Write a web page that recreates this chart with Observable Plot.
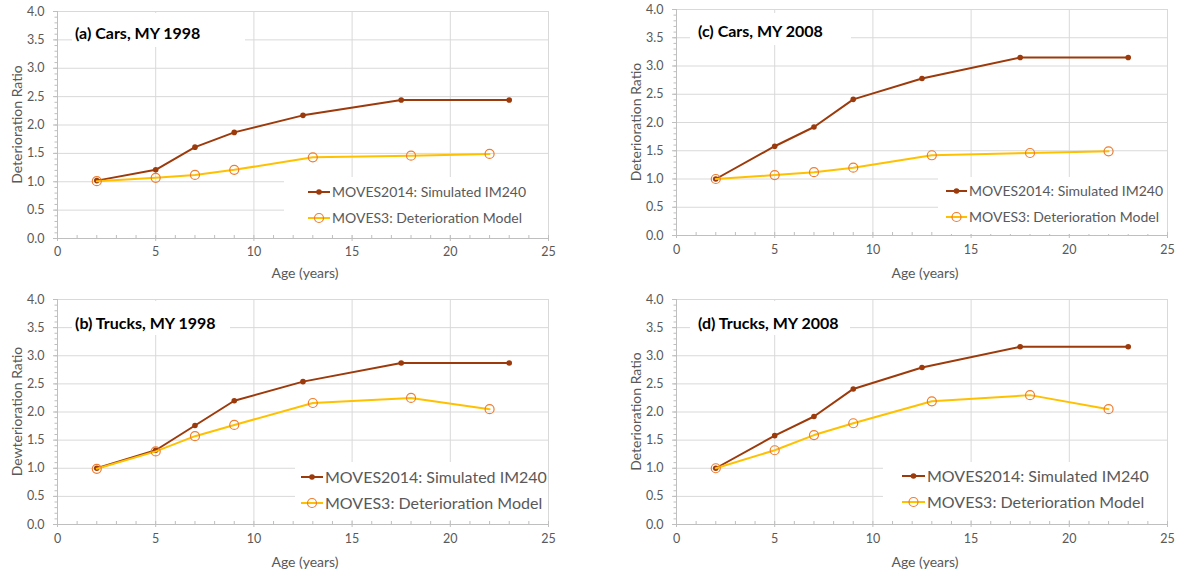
<!DOCTYPE html>
<html>
<head>
<meta charset="utf-8">
<script src="https://cdn.jsdelivr.net/npm/d3@7"></script>
<script src="https://cdn.jsdelivr.net/npm/@observablehq/plot@0.6"></script>
<style>
  body { margin: 0; background: #fff; }
  #chart { position: relative; width: 1179px; height: 575px; overflow: hidden; font-family: Lato, "Open Sans", sans-serif; }
  .panel { position: absolute; }
  .panel svg { display: block; }
  .overlay { position: absolute; left: 0; top: 0; pointer-events: none; }
</style>
</head>
<body>
<div id="chart"></div>
<script>
// ---------------- data ----------------
const ages2014 = [2, 5, 7, 9, 12.5, 17.5, 23];
const agesMoves3 = [2, 5, 7, 9, 13, 18, 22];

const carsMY1998_2014   = [1.02, 1.21, 1.61, 1.87, 2.17, 2.44, 2.44];
const carsMY1998_M3     = [1.01, 1.07, 1.12, 1.21, 1.43, 1.46, 1.49];
const carsMY2008_2014   = [1.00, 1.58, 1.92, 2.41, 2.78, 3.15, 3.15];
const carsMY2008_M3     = [1.00, 1.07, 1.12, 1.20, 1.42, 1.46, 1.49];
const trucksMY1998_2014 = [1.00, 1.32, 1.76, 2.20, 2.54, 2.87, 2.87];
const trucksMY1998_M3   = [0.99, 1.30, 1.57, 1.77, 2.16, 2.25, 2.05];
const trucksMY2008_2014 = [1.00, 1.58, 1.92, 2.41, 2.79, 3.16, 3.16];
const trucksMY2008_M3   = [1.00, 1.32, 1.59, 1.80, 2.19, 2.30, 2.05];

const panelTitles = ["(a) Cars, MY 1998", "(c) Cars, MY 2008", "(b) Trucks, MY 1998", "(d) Trucks, MY 2008"];
const yLabels = ["Deterioration Ratio", "Deterioration Ratio", "Dewterioration Ratio", "Deterioration Ratio"];
const xLabel = "Age (years)";
const seriesNames = ["MOVES2014: Simulated IM240", "MOVES3: Deterioration Model"];
const xTicks = [0, 5, 10, 15, 20, 25];
const yTicks = [0, 0.5, 1, 1.5, 2, 2.5, 3, 3.5, 4];

// ---------------- styles ----------------
const C2014 = "#9C3A0B";
const CM3LINE = "#FFC000";
const CM3DOT = "#ED7D31";
const GRID = "#d9d9d9";
const AXIS = "#bfbfbf";
const TXT = "#595959";

const xMinor = d3.range(0, 25.5, 1);
const yMinor = d3.range(0, 40.5, 1).map(d => d / 10);

const layouts = [
  { left: 0, top: 0, w: 590, h: 285, ml: 57, mr: 42, mt: 11, mb: 47, pad: 9,
    s2014: carsMY1998_2014, sM3: carsMY1998_M3,
    tbox: [72, 13, 173, 34], tx: 75, ty: 33, tfs: 16,
    lbox: [284, 177, 264, 58], rows: [192, 218], samp: [308, 330], ltx: 332, lfs: 14,
    ylx: 17, xlx: 305, xly: 273 },
  { left: 590, top: 0, w: 589, h: 285, ml: 86, mr: 12, mt: 9, mb: 50, pad: 10,
    s2014: carsMY2008_2014, sM3: carsMY2008_M3,
    tbox: [100, 13, 161, 32], tx: 108, ty: 31, tfs: 16,
    lbox: [348, 177, 229, 57], rows: [191, 217], samp: [356, 377], ltx: 379, lfs: 14,
    ylx: 46, xlx: 335, xly: 273 },
  { left: 0, top: 285, w: 590, h: 290, ml: 57, mr: 42, mt: 14, mb: 51, pad: 10,
    s2014: trucksMY1998_2014, sM3: trucksMY1998_M3,
    tbox: [72, 16, 158, 34], tx: 75, ty: 38, tfs: 16,
    lbox: [295, 177, 253, 58], rows: [192, 218], samp: [301, 323], ltx: 325, lfs: 16,
    ylx: 17, xlx: 305, xly: 277 },
  { left: 590, top: 285, w: 589, h: 290, ml: 86, mr: 12, mt: 14, mb: 51, pad: 10,
    s2014: trucksMY2008_2014, sM3: trucksMY2008_M3,
    tbox: [100, 16, 160, 34], tx: 108, ty: 38, tfs: 16,
    lbox: [293, 177, 284, 58], rows: [191, 217], samp: [312, 335], ltx: 337, lfs: 16,
    ylx: 46, xlx: 335, xly: 277 }
];

const chart = document.getElementById("chart");

layouts.forEach((L, i) => {
  const d2014 = ages2014.map((x, k) => ({ x, y: L.s2014[k] }));
  const dM3 = agesMoves3.map((x, k) => ({ x, y: L.sM3[k] }));

  const plot = Plot.plot({
    width: L.w, height: L.h,
    marginLeft: L.ml, marginRight: L.mr, marginTop: L.mt, marginBottom: L.mb,
    style: { fontFamily: "Lato, 'Open Sans', sans-serif", fontSize: "12.5px", background: "transparent", color: TXT },
    x: { domain: [0, 25] },
    y: { domain: [0, 4] },
    marks: [
      Plot.gridX(xTicks.filter(t => t > 0), { stroke: GRID, strokeOpacity: 1 }),
      Plot.gridY(yTicks.filter(t => t > 0), { stroke: GRID, strokeOpacity: 1 }),
      Plot.ruleX([0], { stroke: AXIS }),
      Plot.ruleY([0], { stroke: AXIS }),
      Plot.axisY(yMinor, { tickSize: 2.5, fill: "none", stroke: AXIS, label: null }),
      Plot.axisY(yTicks, { tickSize: 4, fill: "none", stroke: AXIS, label: null }),
      Plot.axisY(yTicks, { tickSize: 0, tickPadding: 13, tickFormat: d3.format(".1f"), fill: TXT, label: null }),
      Plot.axisX(xMinor, { tickSize: -3, fill: "none", stroke: AXIS, label: null }),
      Plot.axisX(xTicks, { tickSize: 3, fill: "none", stroke: AXIS, label: null }),
      Plot.axisX(xTicks, { tickSize: 0, tickPadding: L.pad, fill: TXT, label: null }),
      Plot.line(d2014, { x: "x", y: "y", stroke: C2014, strokeWidth: 2 }),
      Plot.dot(d2014, { x: "x", y: "y", r: 2.8, fill: C2014 }),
      Plot.line(dM3, { x: "x", y: "y", stroke: CM3LINE, strokeWidth: 2 }),
      Plot.dot(dM3, { x: "x", y: "y", r: 4.5, stroke: CM3DOT, fill: "none", strokeWidth: 1.2 })
    ]
  });

  const div = document.createElement("div");
  div.className = "panel";
  div.style.left = L.left + "px";
  div.style.top = L.top + "px";
  div.style.width = L.w + "px";
  div.style.height = L.h + "px";
  div.appendChild(plot);

  // overlay: title, legend, axis labels
  const svg = d3.create("svg")
    .attr("class", "overlay")
    .attr("width", L.w).attr("height", L.h)
    .style("font-family", "Lato, 'Open Sans', sans-serif");

  // title
  svg.append("rect").attr("x", L.tbox[0]).attr("y", L.tbox[1])
    .attr("width", L.tbox[2]).attr("height", L.tbox[3]).attr("fill", "#fff");
  svg.append("text").attr("x", L.tx).attr("y", L.ty).attr("dy", "0.35em")
    .attr("font-size", L.tfs).attr("font-weight", "bold").attr("fill", "#000")
    .text(panelTitles[i]);

  // legend
  svg.append("rect").attr("x", L.lbox[0]).attr("y", L.lbox[1])
    .attr("width", L.lbox[2]).attr("height", L.lbox[3]).attr("fill", "#fff");
  const [s0, s1] = L.samp;
  const mid = (s0 + s1) / 2;
  svg.append("line").attr("x1", s0).attr("x2", s1).attr("y1", L.rows[0]).attr("y2", L.rows[0])
    .attr("stroke", C2014).attr("stroke-width", 2);
  svg.append("circle").attr("cx", mid).attr("cy", L.rows[0]).attr("r", 2.8).attr("fill", C2014);
  svg.append("line").attr("x1", s0).attr("x2", s1).attr("y1", L.rows[1]).attr("y2", L.rows[1])
    .attr("stroke", CM3LINE).attr("stroke-width", 2);
  svg.append("circle").attr("cx", mid).attr("cy", L.rows[1]).attr("r", 4.5)
    .attr("fill", "none").attr("stroke", CM3DOT).attr("stroke-width", 1.2);
  seriesNames.forEach((name, k) => {
    svg.append("text").attr("x", L.ltx).attr("y", L.rows[k]).attr("dy", "0.35em")
      .attr("font-size", L.lfs).attr("fill", TXT).text(name);
  });

  // y label
  const yc = (L.mt + (L.h - L.mb)) / 2;
  svg.append("text").attr("transform", `translate(${L.ylx},${yc}) rotate(-90)`)
    .attr("text-anchor", "middle").attr("dy", "0.35em")
    .attr("font-size", 14).attr("fill", TXT).text(yLabels[i]);

  // x label
  svg.append("text").attr("x", L.xlx).attr("y", L.xly).attr("dy", "0.35em")
    .attr("text-anchor", "middle").attr("font-size", 14).attr("fill", TXT).text(xLabel);

  div.appendChild(svg.node());
  chart.appendChild(div);
});
</script>
</body>
</html>
